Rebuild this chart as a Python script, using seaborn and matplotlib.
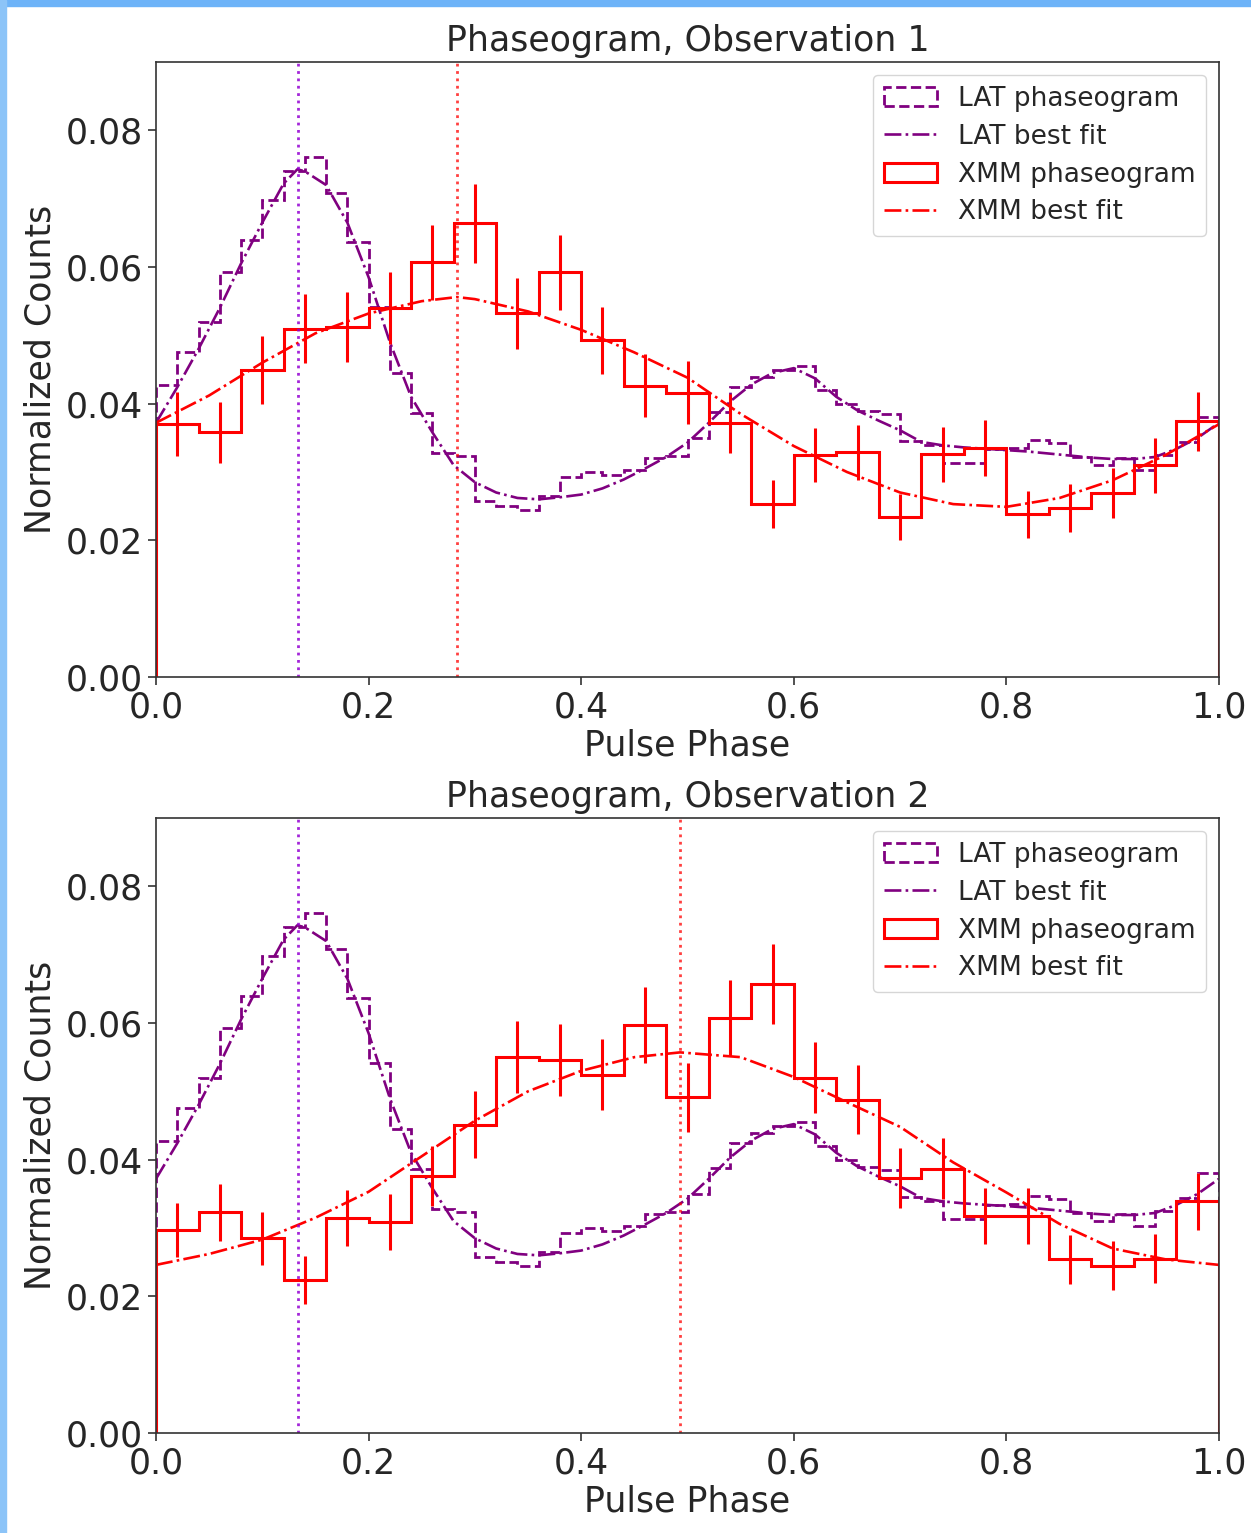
import numpy as np
import matplotlib
matplotlib.use("Agg")
import matplotlib.pyplot as plt
import seaborn as sns
from matplotlib.patches import Rectangle

# ---------------- data ----------------
# LAT phaseogram, 50 bins over pulse phase 0..1 (same in both panels)
lat_counts = [0.0427, 0.0475, 0.0520, 0.0592, 0.0639, 0.0698, 0.0741, 0.0761, 0.0709, 0.0636,
              0.0541, 0.0445, 0.0386, 0.0328, 0.0324, 0.0258, 0.0250, 0.0244, 0.0265, 0.0292,
              0.0300, 0.0296, 0.0303, 0.0320, 0.0324, 0.0350, 0.0388, 0.0425, 0.0439, 0.0449,
              0.0455, 0.0420, 0.0400, 0.0389, 0.0385, 0.0345, 0.0340, 0.0313, 0.0313, 0.0334,
              0.0335, 0.0347, 0.0342, 0.0322, 0.0310, 0.0320, 0.0303, 0.0325, 0.0344, 0.0381]

lat_fit_phase = [0.00, 0.02, 0.04, 0.06, 0.08, 0.10, 0.12, 0.133, 0.14, 0.16, 0.18, 0.20,
                 0.22, 0.24, 0.26, 0.28, 0.30, 0.32, 0.34, 0.36, 0.38, 0.40, 0.42, 0.44,
                 0.46, 0.48, 0.50, 0.52, 0.54, 0.56, 0.58, 0.60, 0.62, 0.64, 0.66, 0.68,
                 0.70, 0.72, 0.74, 0.76, 0.78, 0.80, 0.82, 0.84, 0.86, 0.88, 0.90, 0.92,
                 0.94, 0.96, 0.98, 1.00]
lat_fit_vals = [0.0372, 0.0424, 0.0480, 0.0540, 0.0605, 0.0665, 0.0722, 0.0743, 0.0740, 0.0720,
                0.0665, 0.0585, 0.0490, 0.0410, 0.0358, 0.0310, 0.0285, 0.0270, 0.0262, 0.0260,
                0.0263, 0.0267, 0.0276, 0.0289, 0.0305, 0.0322, 0.0343, 0.0372, 0.0403, 0.0428,
                0.0445, 0.0452, 0.0437, 0.0410, 0.0390, 0.0375, 0.0361, 0.0344, 0.0339, 0.0336,
                0.0334, 0.0332, 0.0330, 0.0327, 0.0324, 0.0321, 0.0319, 0.0319, 0.0322, 0.0334,
                0.0350, 0.0372]

# XMM phaseograms, 25 bins over pulse phase 0..1
xmm1_counts = [0.0370, 0.0358, 0.0449, 0.0510, 0.0512, 0.0540, 0.0607, 0.0664, 0.0532, 0.0592,
               0.0493, 0.0426, 0.0416, 0.0371, 0.0253, 0.0325, 0.0329, 0.0234, 0.0326, 0.0335,
               0.0238, 0.0247, 0.0269, 0.0310, 0.0374]
xmm1_err = [0.0047, 0.0045, 0.0050, 0.0051, 0.0051, 0.0052, 0.0055, 0.0058, 0.0052, 0.0055,
            0.0049, 0.0046, 0.0046, 0.0043, 0.0035, 0.0040, 0.0040, 0.0034, 0.0040, 0.0041,
            0.0034, 0.0035, 0.0037, 0.0040, 0.0043]

xmm2_counts = [0.0297, 0.0323, 0.0285, 0.0224, 0.0314, 0.0309, 0.0376, 0.0451, 0.0550, 0.0546,
               0.0524, 0.0597, 0.0491, 0.0607, 0.0657, 0.0520, 0.0488, 0.0373, 0.0387, 0.0318,
               0.0318, 0.0254, 0.0245, 0.0255, 0.0339]
xmm2_err = [0.0040, 0.0042, 0.0039, 0.0035, 0.0041, 0.0041, 0.0044, 0.0049, 0.0053, 0.0053,
            0.0052, 0.0056, 0.0051, 0.0056, 0.0059, 0.0052, 0.0050, 0.0044, 0.0045, 0.0041,
            0.0041, 0.0036, 0.0036, 0.0036, 0.0042]

xmm1_fit_phase = [0.00, 0.05, 0.10, 0.15, 0.20, 0.25, 0.283, 0.30, 0.35, 0.40, 0.45, 0.50,
                  0.55, 0.60, 0.65, 0.70, 0.75, 0.80, 0.85, 0.90, 0.95, 1.00]
xmm1_fit_vals = [0.0372, 0.0412, 0.0460, 0.0503, 0.0532, 0.0550, 0.0556, 0.0553, 0.0535, 0.0508,
                 0.0475, 0.0438, 0.0385, 0.0338, 0.0300, 0.0270, 0.0253, 0.0249, 0.0262, 0.0288,
                 0.0325, 0.0370]

xmm2_fit_phase = [0.00, 0.05, 0.10, 0.15, 0.20, 0.25, 0.30, 0.35, 0.40, 0.45, 0.493, 0.55,
                  0.60, 0.65, 0.70, 0.75, 0.80, 0.85, 0.90, 0.95, 1.00]
xmm2_fit_vals = [0.0246, 0.0262, 0.0283, 0.0315, 0.0353, 0.0405, 0.0457, 0.0500, 0.0530, 0.0550,
                 0.0557, 0.0550, 0.0521, 0.0484, 0.0448, 0.0396, 0.0352, 0.0306, 0.0270, 0.0254,
                 0.0246]

lat_peak = 0.134
xmm_peaks = [0.283, 0.493]
titles = ["Phaseogram, Observation 1", "Phaseogram, Observation 2"]
xticks = [0.0, 0.2, 0.4, 0.6, 0.8, 1.0]
yticks = [0.00, 0.02, 0.04, 0.06, 0.08]

# ---------------- figure ----------------
sns.set_style("ticks")
plt.rcParams['font.family'] = ['DejaVu Sans']

W, H = 1251, 1533
fig = plt.figure(figsize=(W / 100, H / 100), dpi=100)
fig.patch.set_facecolor("white")

# light blue frame strips (top and left) as in the screenshot
fig.patches.append(Rectangle((0, 1 - 6 / H), 1, 6 / H, transform=fig.transFigure,
                             color="#6db3f8", zorder=-1))
fig.patches.append(Rectangle((0, 0), 6 / W, 1, transform=fig.transFigure,
                             color="#8cc4f8", zorder=-1))

lat_edges = np.linspace(0, 1, len(lat_counts) + 1)
lat_centers = 0.5 * (lat_edges[:-1] + lat_edges[1:])

panels = [
    (xmm1_counts, xmm1_err, xmm1_fit_phase, xmm1_fit_vals, xmm_peaks[0], titles[0]),
    (xmm2_counts, xmm2_err, xmm2_fit_phase, xmm2_fit_vals, xmm_peaks[1], titles[1]),
]
positions = [[156 / W, 1 - 677 / H, 1063 / W, 615 / H],
             [156 / W, 1 - 1433 / H, 1063 / W, 615 / H]]

FS = 25
for pos, (xc, xe, xfp, xfv, xpk, title) in zip(positions, panels):
    ax = fig.add_axes(pos)
    for s in ax.spines.values():
        s.set_visible(True)
        s.set_color("#333333")
        s.set_linewidth(1.2)

    xmm_edges = np.linspace(0, 1, len(xc) + 1)
    xmm_centers = 0.5 * (xmm_edges[:-1] + xmm_edges[1:])

    ax.hist(lat_centers, bins=lat_edges, weights=lat_counts, histtype="step",
            linestyle="--", color="purple", linewidth=2.0, label="LAT phaseogram")
    sns.lineplot(x=lat_fit_phase, y=lat_fit_vals, ax=ax, color="purple",
                 linestyle="-.", linewidth=1.9, label="LAT best fit", sort=True)
    ax.hist(xmm_centers, bins=xmm_edges, weights=xc, histtype="step",
            linestyle="-", color="red", linewidth=2.2, label="XMM phaseogram")
    sns.lineplot(x=xfp, y=xfv, ax=ax, color="red", linestyle="-.",
                 linewidth=1.9, label="XMM best fit", sort=True)
    ax.errorbar(xmm_centers, xc, yerr=xe, fmt="none", ecolor="red",
                elinewidth=2.2, capsize=0)

    ax.axvline(lat_peak, color="darkviolet", linestyle=":", linewidth=2.0, alpha=0.85)
    ax.axvline(xpk, color="red", linestyle=":", linewidth=2.0, alpha=0.75)

    ax.set_xlim(0, 1)
    ax.set_ylim(0, 0.09)
    ax.set_xticks(xticks)
    ax.set_yticks(yticks)
    ax.set_xticklabels([f"{t:.1f}" for t in xticks])
    ax.set_yticklabels([f"{t:.2f}" for t in yticks])
    ax.tick_params(axis="both", labelsize=FS, length=6, width=1.2, direction="out",
                   color="#333333")
    ax.set_xlabel("Pulse Phase", fontsize=FS, labelpad=3)
    ax.set_ylabel("Normalized Counts", fontsize=FS, labelpad=6)
    ax.set_title(title, fontsize=FS, pad=8)

    h, l = ax.get_legend_handles_labels()
    order = ["LAT phaseogram", "LAT best fit", "XMM phaseogram", "XMM best fit"]
    hh = [h[l.index(o)] for o in order]
    ax.legend(hh, order, loc="upper right", fontsize=19, frameon=True,
              framealpha=0.8, edgecolor="#cccccc", handlelength=2.0,
              borderaxespad=0.5, labelspacing=0.45)

fig.savefig("out.png", dpi=100, facecolor=fig.get_facecolor())
